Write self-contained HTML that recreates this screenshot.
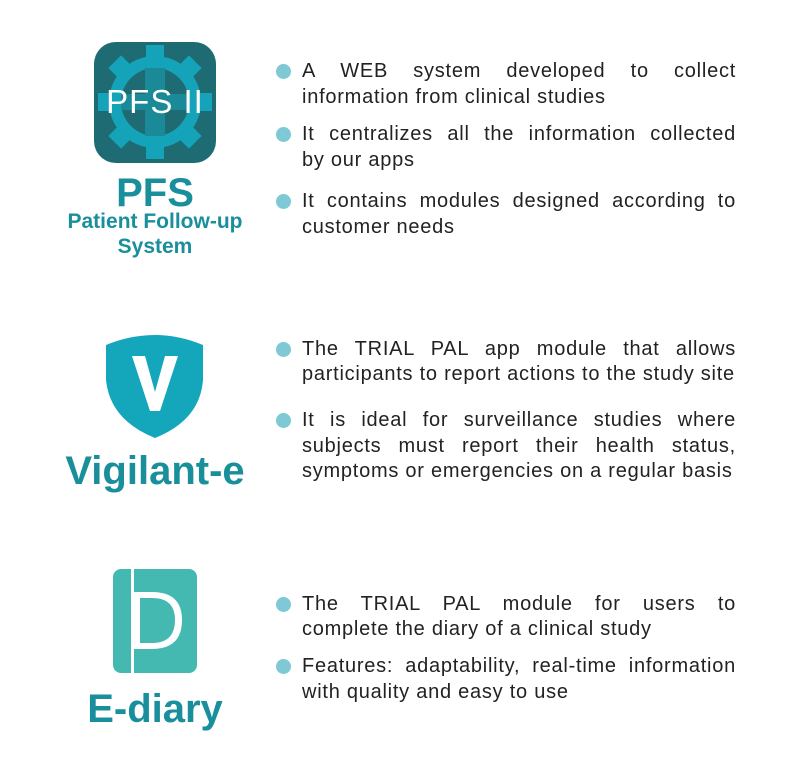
<!DOCTYPE html>
<html><head><meta charset="utf-8"><style>
body{margin:0;width:800px;height:769px;background:#fff;position:relative;overflow:hidden;font-family:"Liberation Sans",sans-serif}
.t{position:absolute;color:#1a8f9c;font-weight:bold;text-align:center;white-space:nowrap}
.l{position:absolute;left:302px;width:434px;font-size:20px;letter-spacing:0.75px;color:#222;white-space:nowrap;line-height:26px}
.j{text-align:justify;text-align-last:justify}
.b{position:absolute;left:276px;width:15px;height:15px;border-radius:50%;background:#7fc8d6}
</style></head><body>
<svg width="800" height="769" style="position:absolute;left:0;top:0">
<rect x="94" y="42" width="122" height="121" rx="22" fill="#1f6b73"/>
<g transform="translate(155,102)" fill="#14a3b8">
<g>
<rect x="-9" y="-57" width="18" height="14"/>
<rect x="-9" y="-57" width="18" height="14" transform="rotate(45)"/>
<rect x="-9" y="-57" width="18" height="14" transform="rotate(90)"/>
<rect x="-9" y="-57" width="18" height="14" transform="rotate(135)"/>
<rect x="-9" y="-57" width="18" height="14" transform="rotate(180)"/>
<rect x="-9" y="-57" width="18" height="14" transform="rotate(225)"/>
<rect x="-9" y="-57" width="18" height="14" transform="rotate(270)"/>
<rect x="-9" y="-57" width="18" height="14" transform="rotate(315)"/>
</g>
<circle r="46"/>
<circle r="34" fill="#1f6b73"/>
<rect x="-10" y="-34" width="20" height="68" fill="#1a8a98"/>
<rect x="-34" y="-8" width="68" height="16" fill="#1a8a98"/>
</g>
<text x="155" y="113" text-anchor="middle" font-family="Liberation Sans" font-size="33" fill="#fff" letter-spacing="1">PFS II</text>
<path d="M106 345 Q155 325 203 345 L203 380 Q200 420 155 438 Q110 420 106 380 Z" fill="#14a7bb"/>
<path d="M132 356 L145 356 L155 392 L165 356 L178 356 L160 411 L150 411 Z" fill="#fff"/>
<rect x="113" y="569" width="84" height="104" rx="8" fill="#43b9b1"/>
<rect x="131" y="569" width="3" height="104" fill="#fff"/>
<path d="M134 592 L152 592 Q182 592 182 620 Q182 649 152 649 L134 649 Z" fill="#fff"/>
<path d="M140 598 L152 598 Q175 598 175 620 Q175 643 152 643 L140 643 Z" fill="#43b9b1"/>
</svg>
<div class="t" style="left:55px;width:200px;top:173px;font-size:40px;line-height:40px">PFS</div>
<div class="t" style="left:55px;width:200px;top:209px;font-size:21px;line-height:25px">Patient Follow-up<br>System</div>
<div class="t" style="left:55px;width:200px;top:448px;font-size:40px;line-height:46px">Vigilant-e</div>
<div class="t" style="left:55px;width:200px;top:686px;font-size:40px;line-height:46px">E-diary</div>

<div class="b" style="top:64px"></div>
<div class="l j" style="top:58px">A WEB system developed to collect</div>
<div class="l" style="top:84px">information from clinical studies</div>
<div class="b" style="top:127px"></div>
<div class="l j" style="top:121px">It centralizes all the information collected</div>
<div class="l" style="top:147px">by our apps</div>
<div class="b" style="top:194px"></div>
<div class="l j" style="top:188px">It contains modules designed according to</div>
<div class="l" style="top:214px">customer needs</div>

<div class="b" style="top:342px"></div>
<div class="l j" style="top:336px">The TRIAL PAL app module that allows</div>
<div class="l" style="top:361px">participants to report actions to the study site</div>
<div class="b" style="top:413px"></div>
<div class="l j" style="top:407px">It is ideal for surveillance studies where</div>
<div class="l j" style="top:433px">subjects must report their health status,</div>
<div class="l" style="top:458px">symptoms or emergencies on a regular basis</div>

<div class="b" style="top:597px"></div>
<div class="l j" style="top:591px">The TRIAL PAL module for users to</div>
<div class="l" style="top:616px">complete the diary of a clinical study</div>
<div class="b" style="top:659px"></div>
<div class="l j" style="top:653px">Features: adaptability, real-time information</div>
<div class="l" style="top:679px">with quality and easy to use</div>
</body></html>
